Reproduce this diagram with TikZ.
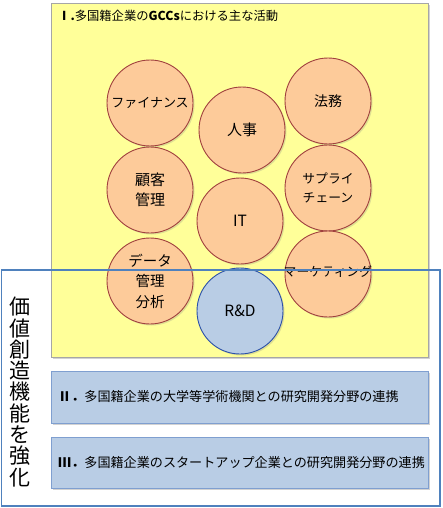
\documentclass[tikz,border=0pt]{standalone}
\usepackage{fontspec}
\setmainfont{Noto Sans CJK JP}
\usetikzlibrary{shadows}
\definecolor{ylw}{HTML}{FFFF99}
\definecolor{peach}{HTML}{FDCB9A}
\definecolor{peachline}{HTML}{A0403E}
\definecolor{lblue}{HTML}{B9CDE5}
\definecolor{rdline}{HTML}{2B50A8}
\definecolor{boxline}{HTML}{7F9FD0}
\definecolor{outline}{HTML}{4F81BD}
\begin{document}
\begin{tikzpicture}[x=1pt,y=-1pt,
  act/.style={circle,draw=peachline,line width=0.9pt,fill=peach,minimum size=86pt,inner sep=0pt,align=center,font=\fontsize{13}{16}\selectfont,drop shadow={shadow xshift=1.5pt,shadow yshift=-1.5pt,opacity=0.25}},
  rdc/.style={act,draw=rdline,fill=lblue},
  linkbox/.style={draw=boxline,line width=0.8pt,fill=lblue,drop shadow={shadow xshift=2pt,shadow yshift=-2pt,opacity=0.35}},
  boxtext/.style={anchor=west,inner sep=0pt,font=\fontsize{13.1}{15}\selectfont}]
\useasboundingbox (0,0) rectangle (443,508);
\fill[white] (0,0) rectangle (443,508);
% yellow box
\path[draw=gray!70,line width=0.8pt,fill=ylw,drop shadow={shadow xshift=2pt,shadow yshift=-2pt,opacity=0.35}] (51,3) rectangle (428,357);
\node[anchor=west,inner sep=0pt,font=\fontsize{12.3}{15}\selectfont] (title) at (58,16) {\textbf{Ⅰ.}多国籍企業の\textbf{GCCs}における主な活動};
% circles
\node[act] (fin) at (150,103) {ファイナンス};
\node[act,font=\fontsize{15}{17}\selectfont] (hr) at (242,130) {人事};
\node[act,font=\fontsize{14}{17}\selectfont] (legal) at (328,101) {法務};
\node[act,font=\fontsize{15}{20}\selectfont] (cust) at (150,190) {顧客\\管理};
\node[act,font=\fontsize{12.8}{19}\selectfont] (supply) at (328,188) {サプライ\\チェーン};
\node[act,font=\fontsize{15.5}{17}\selectfont] (it) at (240,221) {IT};
\node[act,font=\fontsize{14.5}{20.5}\selectfont] (data) at (150,281) {データ\\管理\\分析};
\node[act] (mkt) at (328,274) {};
\node[inner sep=0pt,font=\fontsize{12.8}{15}\selectfont] (mkttext) at (328,272) {マーケティング};
\node[rdc,font=\fontsize{15.5}{17}\selectfont] (rd) at (240,311) {R\&D};
% boxes II and III
\draw[linkbox] (51,371) rectangle (428,423);
\node[boxtext] (t2) at (58,397) {\textbf{Ⅱ．}多国籍企業の大学等学術機関との研究開発分野の連携};
\draw[linkbox] (51,437) rectangle (428,488);
\node[boxtext] (t3) at (58,463) {\textbf{Ⅲ．}多国籍企業のスタートアップ企業との研究開発分野の連携};
% outer blue frame
\draw[outline,line width=1.4pt] (1.5,270) rectangle (440,506);
\node[inner sep=0pt,align=center,font=\fontsize{21}{21.3}\selectfont] (vert) at (20,392) {価\\値\\創\\造\\機\\能\\を\\強\\化};
\end{tikzpicture}
\end{document}
